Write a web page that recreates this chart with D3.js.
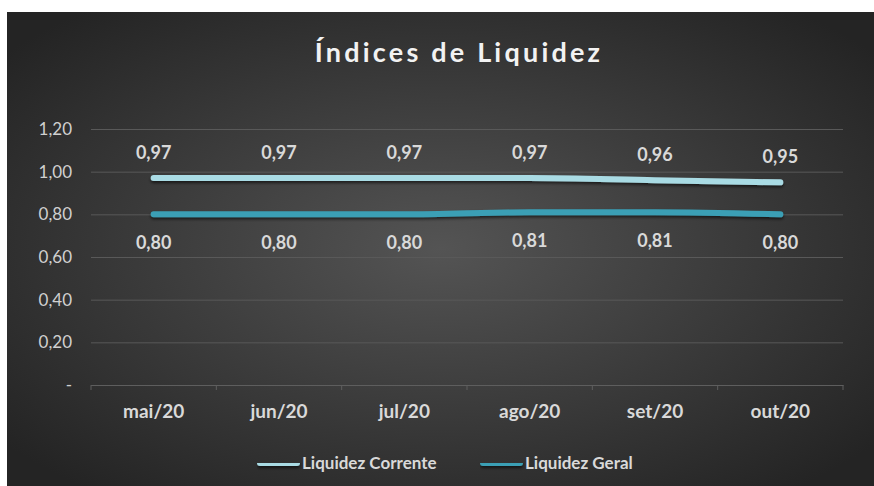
<!DOCTYPE html>
<html lang="pt">
<head>
<meta charset="UTF-8">
<title>Índices de Liquidez</title>
<style>
  html, body { margin: 0; padding: 0; background: #ffffff; }
  text { font-family: Lato, "Open Sans", sans-serif; }
</style>
</head>
<body>
<div id="chart"></div>
<script src="https://cdn.jsdelivr.net/npm/d3@7/dist/d3.min.js"></script>
<script>
    const months = ["mai/20", "jun/20", "jul/20", "ago/20", "set/20", "out/20"];
    const corrente = [0.97, 0.97, 0.97, 0.97, 0.96, 0.95];
    const geral = [0.80, 0.80, 0.80, 0.81, 0.81, 0.80];
    const yTicks = [0, 0.2, 0.4, 0.6, 0.8, 1.0, 1.2];
    const seriesNames = ["Liquidez Corrente", "Liquidez Geral"];
    const seriesColors = ["#a9dbe4", "#3a9fb5"];

    const width = 874, height = 486;
    const box = {"left": 7, "top": 12};
    const margin = {"top": 129, "left": 91, "bottom": 385, "right": 843};

    const svg = d3.select("#chart")
        .append("svg")
        .attr("width", width)
        .attr("height", height)
        .style("display", "block");

    const defs = svg.append("defs");
    const grad = defs.append("radialGradient")
        .attr("id", "bg")
        .attr("cx", "50%").attr("cy", "50%").attr("r", "65%");
    grad.append("stop").attr("offset", "0%").attr("stop-color", "#545454");
    grad.append("stop").attr("offset", "100%").attr("stop-color", "#242424");

    // shadow region in user space so flat lines keep it
    const shadow = defs.append("filter").attr("id", "shadow")
        .attr("filterUnits", "userSpaceOnUse")
        .attr("x", 0).attr("y", 0).attr("width", width).attr("height", height);
    shadow.append("feDropShadow")
        .attr("dx", 0).attr("dy", 2).attr("stdDeviation", 1.5)
        .attr("flood-color", "#000").attr("flood-opacity", 0.6);

    svg.append("rect")
        .attr("x", box.left).attr("y", box.top)
        .attr("width", width - box.left).attr("height", height - box.top)
        .attr("fill", "url(#bg)");

    const x = d3.scaleBand().domain(months).range([margin.left, margin.right]);
    const y = d3.scaleLinear().domain([0, 1.2]).range([margin.bottom, margin.top]);
    const fmt = v => v === 0 ? "-" : d3.format(".2f")(v).replace(".", ",");

    // gridlines + y labels
    const yAxis = d3.axisLeft(y)
        .tickValues(yTicks)
        .tickSize(-(margin.right - margin.left))
        .tickPadding(19)
        .tickFormat(fmt);
    const gy = svg.append("g")
        .attr("transform", `translate(${margin.left},0)`)
        .call(yAxis);
    gy.select(".domain").remove();
    gy.selectAll(".tick line").attr("stroke", "#595959").attr("stroke-width", 1);
    gy.selectAll(".tick text")
        .attr("fill", "#d0d0d0")
        .style("font-size", "17px");

    // x axis with tick marks at band edges
    const gx = svg.append("g")
        .attr("transform", `translate(0,${margin.bottom})`)
        .call(d3.axisBottom(x).tickSize(0).tickPadding(20));
    gx.select(".domain").attr("stroke", "#5e5e5e");
    gx.selectAll(".tick text")
        .attr("fill", "#d9d9d9")
        .style("font-size", "19px")
        .style("font-weight", "bold");
    gx.selectAll(".edge")
        .data(d3.range(months.length + 1))
        .join("line")
        .attr("class", "edge")
        .attr("x1", i => margin.left + i * x.step())
        .attr("x2", i => margin.left + i * x.step())
        .attr("y1", 0).attr("y2", 5)
        .attr("stroke", "#5e5e5e");

    // lines
    const series = [corrente, geral];
    const line = d3.line()
        .x((d, i) => x(months[i]) + x.bandwidth() / 2)
        .y(d => y(d))
        .curve(d3.curveMonotoneX);

    series.forEach((vals, s) => {
        svg.append("path")
            .datum(vals)
            .attr("d", line)
            .attr("fill", "none")
            .attr("stroke", seriesColors[s])
            .attr("stroke-width", 6)
            .attr("stroke-linecap", "round")
            .attr("filter", "url(#shadow)");
    });

    // data labels
    series.forEach((vals, s) => {
        svg.append("g")
            .selectAll("text")
            .data(vals)
            .join("text")
            .attr("x", (d, i) => x(months[i]) + x.bandwidth() / 2)
            .attr("y", d => s === 0 ? y(d) - 19 : y(d) + 35)
            .attr("text-anchor", "middle")
            .attr("fill", "#d9d9d9")
            .style("font-size", "18px")
            .style("font-weight", "bold")
            .text(fmt);
    });

    // title
    svg.append("text")
        .attr("x", 459)
        .attr("y", 62)
        .attr("text-anchor", "middle")
        .attr("fill", "#f2f2f2")
        .style("font-size", "27px")
        .style("font-weight", "bold")
        .style("letter-spacing", "3.2px")
        .text("Índices de Liquidez");

    // legend
    const legendX = [257, 480];
    const legend = svg.append("g")
        .selectAll("g")
        .data(seriesNames)
        .join("g")
        .attr("transform", (d, i) => `translate(${legendX[i]},463)`);
    legend.append("rect")
        .attr("x", 0).attr("y", -3)
        .attr("width", 43).attr("height", 6)
        .attr("rx", 3)
        .attr("fill", (d, i) => seriesColors[i])
        .attr("filter", "url(#shadow)");
    legend.append("text")
        .attr("x", 45)
        .attr("y", 6)
        .attr("fill", "#d9d9d9")
        .style("font-size", "17px")
        .style("font-weight", "bold")
        .text(d => d);
</script>
</body>
</html>
